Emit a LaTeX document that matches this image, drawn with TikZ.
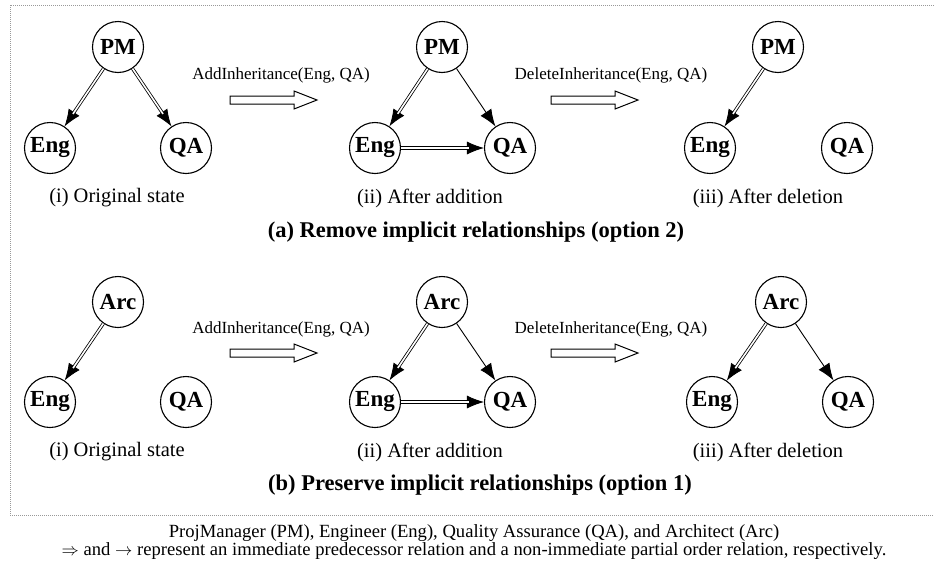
\documentclass[tikz,border=0pt]{standalone}
\usepackage{fontspec}
\setmainfont{Liberation Serif}
\usetikzlibrary{arrows.meta}
\begin{document}
\begin{tikzpicture}[x=1pt,y=-1pt,
  role/.style={circle,draw,line width=1.1pt,minimum size=51pt,inner sep=0pt,font=\fontsize{23}{25}\selectfont\bfseries},
  tipline/.style={draw,line width=0.8pt,-{Latex[length=17pt,width=13pt]}},
  dbl/.style={draw,double=white,double distance=1.6pt,line width=0.8pt,shorten >=15pt},
  nonimm/.style={draw,line width=0.9pt,-{Latex[length=17pt,width=13pt]}},
  capt/.style={font=\fontsize{20.5}{24}\selectfont},
  oplabel/.style={font=\fontsize{17}{20}\selectfont},
  paneltitle/.style={font=\fontsize{22.5}{26}\selectfont\bfseries},
  legendtext/.style={font=\fontsize{18.6}{21}\selectfont},
  frame/.style={draw=gray!80,line width=0.7pt,dash pattern=on 1pt off 1pt},
  hollow/.pic={\draw[line width=1pt,fill=white] (0,-4) -- (64,-4) -- (64,-9) -- (87,0) -- (64,9) -- (64,4) -- (0,4) -- cycle;}
]
\useasboundingbox (0,0) rectangle (934,568);
\draw[frame] (934,5) -- (10,5) -- (10,515) -- (934,515);

% ---------- panel (a) ----------
\node[role] (pmA) at (118,47) {PM};
\node[role] (engA) at (50,148) {Eng};
\node[role] (qaA) at (186,148) {QA};
\draw[tipline] (pmA) -- (engA); \draw[dbl] (pmA) -- (engA);
\draw[tipline] (pmA) -- (qaA);  \draw[dbl] (pmA) -- (qaA);
\node[capt] (capA1) at (117,198) {(i) Original state};

\pic at (230,100) {hollow};
\node[oplabel] (opA1) at (281,75) {AddInheritance(Eng, QA)};

\node[role] (pmB) at (442,47) {PM};
\node[role] (engB) at (375,148) {Eng};
\node[role] (qaB) at (510,148) {QA};
\draw[tipline] (pmB) -- (engB); \draw[dbl] (pmB) -- (engB);
\draw[nonimm] (pmB) -- (qaB);
\draw[tipline] (engB) -- (qaB); \draw[dbl] (engB) -- (qaB);
\node[capt] (capA2) at (430,198) {(ii) After addition};

\pic at (551,100) {hollow};
\node[oplabel] (opA2) at (611,75) {DeleteInheritance(Eng, QA)};

\node[role] (pmC) at (778,47) {PM};
\node[role] (engC) at (710,148) {Eng};
\node[role] (qaC) at (847,148) {QA};
\draw[tipline] (pmC) -- (engC); \draw[dbl] (pmC) -- (engC);
\node[capt] (capA3) at (768,198) {(iii) After deletion};

\node[paneltitle] (titleA) at (476,232) {(a) Remove implicit relationships (option 2)};

% ---------- panel (b) ----------
\node[role] (arcD) at (118,302) {Arc};
\node[role] (engD) at (50,402) {Eng};
\node[role] (qaD) at (186,402) {QA};
\draw[tipline] (arcD) -- (engD); \draw[dbl] (arcD) -- (engD);
\node[capt] (capB1) at (117,452) {(i) Original state};

\pic at (230,353) {hollow};
\node[oplabel] (opB1) at (281,329) {AddInheritance(Eng, QA)};

\node[role] (arcE) at (442,302) {Arc};
\node[role] (engE) at (375,402) {Eng};
\node[role] (qaE) at (510,402) {QA};
\draw[tipline] (arcE) -- (engE); \draw[dbl] (arcE) -- (engE);
\draw[nonimm] (arcE) -- (qaE);
\draw[tipline] (engE) -- (qaE); \draw[dbl] (engE) -- (qaE);
\node[capt] (capB2) at (430,452) {(ii) After addition};

\pic at (551,353) {hollow};
\node[oplabel] (opB2) at (611,329) {DeleteInheritance(Eng, QA)};

\node[role] (arcF) at (781,302) {Arc};
\node[role] (engF) at (712,402) {Eng};
\node[role] (qaF) at (848,402) {QA};
\draw[tipline] (arcF) -- (engF); \draw[dbl] (arcF) -- (engF);
\draw[nonimm] (arcF) -- (qaF);
\node[capt] (capB3) at (768,452) {(iii) After deletion};

\node[paneltitle] (titleB) at (480,485) {(b) Preserve implicit relationships (option 1)};

% ---------- legend ----------
\node[legendtext] (leg1) at (474,533) {ProjManager (PM), Engineer (Eng), Quality Assurance (QA), and Architect (Arc)};
\node[legendtext] (leg2) at (474,551) {$\Rightarrow$ and $\rightarrow$ represent an immediate predecessor relation and a non-immediate partial order relation, respectively.};
\end{tikzpicture}
\end{document}
